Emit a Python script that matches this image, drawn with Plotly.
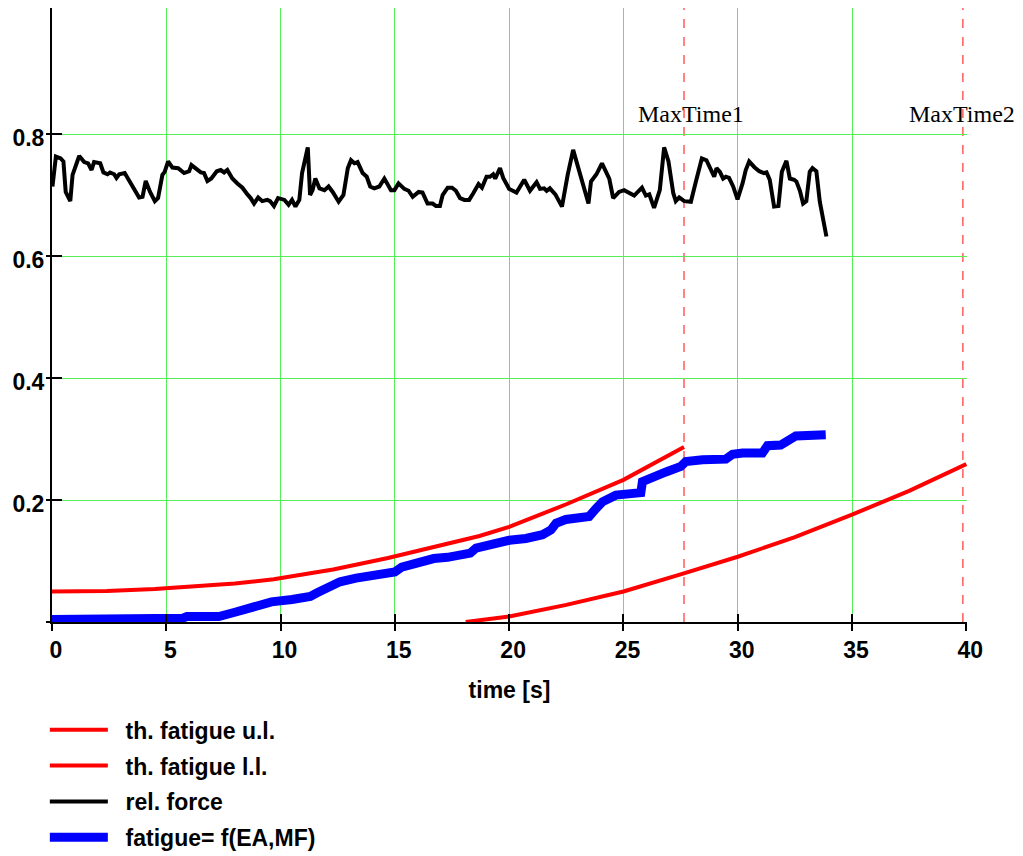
import plotly.graph_objects as go

# ---------------- data ----------------
force_t = [0.02, 0.17, 0.38, 0.5, 0.6, 0.8, 0.9, 1.19, 1.41, 1.58, 1.73, 1.84, 2.11, 2.25, 2.43, 2.54, 2.72,
           2.82, 2.94, 3.18, 3.45, 3.66, 3.81, 3.96, 4.10, 4.29, 4.50, 4.64, 4.83, 4.93, 5.08, 5.27, 5.52,
           5.78, 6.0, 6.10, 6.29, 6.51, 6.65, 6.80, 6.97, 7.21, 7.38, 7.53, 7.67, 7.89, 8.11, 8.33, 8.55,
           8.69, 8.84, 9.02, 9.20, 9.42, 9.54, 9.71, 9.89, 10.08, 10.17, 10.35, 10.50, 10.65, 10.82, 10.94,
           11.19, 11.29, 11.40, 11.52, 11.70, 11.92, 12.10, 12.28, 12.54, 12.75, 12.94, 13.08, 13.23, 13.37,
           13.59, 13.77, 13.92, 14.10, 14.32, 14.54, 14.68, 14.83, 14.98, 15.16, 15.41, 15.60, 15.78, 15.93,
           16.04, 16.21, 16.43, 16.65, 16.80, 16.97, 17.09, 17.31, 17.50, 17.67, 17.85, 18.04, 18.25, 18.43,
           18.66, 18.81, 19.01, 19.16, 19.30, 19.39, 19.60, 19.74, 19.89, 20.0, 20.32, 20.66, 20.91, 21.20,
           21.35, 21.53, 21.64, 21.78, 22.02, 22.31, 22.56, 22.80, 22.99, 23.21, 23.47, 23.58, 23.82, 24.06,
           24.23, 24.38, 24.55, 24.81, 25.03, 25.22, 25.47, 25.81, 25.98, 26.13, 26.34, 26.59, 26.78, 26.97,
           27.18, 27.29, 27.44, 27.66, 27.95, 28.17, 28.43, 28.63, 28.82, 28.97, 29.07, 29.22, 29.36, 29.48,
           29.62, 29.80, 29.99, 30.21, 30.35, 30.50, 30.72, 30.94, 31.15, 31.26, 31.40, 31.59, 31.78, 31.93,
           32.13, 32.28, 32.47, 32.57, 32.72, 32.86, 33.00, 33.15, 33.27, 33.44, 33.59, 33.73, 33.88]
force_v = [0.714, 0.763, 0.760, 0.755, 0.705, 0.690, 0.733, 0.764, 0.754, 0.752, 0.741, 0.754, 0.752, 0.737,
           0.734, 0.737, 0.734, 0.728, 0.734, 0.736, 0.719, 0.704, 0.696, 0.697, 0.723, 0.705, 0.690, 0.695,
           0.733, 0.738, 0.755, 0.745, 0.744, 0.736, 0.739, 0.749, 0.743, 0.737, 0.736, 0.723, 0.727, 0.739,
           0.741, 0.737, 0.741, 0.727, 0.719, 0.712, 0.701, 0.695, 0.686, 0.696, 0.690, 0.692, 0.690, 0.682,
           0.695, 0.693, 0.692, 0.684, 0.692, 0.681, 0.692, 0.736, 0.778, 0.700, 0.708, 0.727, 0.711, 0.708,
           0.714, 0.705, 0.689, 0.700, 0.744, 0.757, 0.752, 0.754, 0.736, 0.730, 0.714, 0.711, 0.714, 0.727,
           0.718, 0.708, 0.708, 0.719, 0.710, 0.707, 0.697, 0.701, 0.705, 0.704, 0.686, 0.686, 0.682, 0.682,
           0.700, 0.712, 0.712, 0.707, 0.695, 0.692, 0.692, 0.703, 0.718, 0.712, 0.730, 0.730, 0.734, 0.727,
           0.744, 0.728, 0.716, 0.710, 0.704, 0.725, 0.707, 0.721, 0.710, 0.711, 0.707, 0.711, 0.701, 0.681,
           0.733, 0.774, 0.749, 0.722, 0.686, 0.722, 0.734, 0.752, 0.738, 0.727, 0.695, 0.705, 0.708, 0.704,
           0.699, 0.712, 0.699, 0.701, 0.679, 0.708, 0.778, 0.755, 0.703, 0.690, 0.696, 0.690, 0.689, 0.722,
           0.760, 0.757, 0.741, 0.730, 0.744, 0.738, 0.727, 0.730, 0.728, 0.714, 0.693, 0.719, 0.741, 0.755,
           0.746, 0.739, 0.736, 0.737, 0.725, 0.681, 0.682, 0.738, 0.756, 0.727, 0.725, 0.722, 0.707, 0.686,
           0.690, 0.738, 0.744, 0.739, 0.689, 0.659, 0.632]

fatigue_t = [0, 4.5, 4.7, 5.7, 5.9, 7.3, 8.0, 8.5, 9.0, 9.6, 10.5, 11.3, 11.6, 12.2, 12.6, 13.3, 14.0, 14.6,
             15.0, 15.3, 15.8, 16.3, 16.7, 17.3, 17.8, 18.3, 18.55, 19.27, 20.0, 20.73, 21.46, 21.83, 22.05,
             22.48, 23.5, 23.8, 24.08, 24.67, 25.76, 25.83, 26.27, 26.86, 27.51, 27.73, 28.46, 29.48, 29.77,
             30.21, 31.08, 31.3, 31.88, 32.17, 32.54, 33.85]
fatigue_v = [0.004, 0.004, 0.006, 0.006, 0.009, 0.009, 0.016, 0.022, 0.028, 0.033, 0.037, 0.042, 0.048,
             0.060, 0.066, 0.072, 0.076, 0.079, 0.082, 0.090, 0.096, 0.099, 0.104, 0.106, 0.109, 0.113,
             0.121, 0.129, 0.134, 0.137, 0.143, 0.151, 0.162, 0.168, 0.173, 0.186, 0.197, 0.208, 0.212,
             0.230, 0.238, 0.246, 0.255, 0.263, 0.266, 0.267, 0.275, 0.277, 0.277, 0.289, 0.290, 0.297,
             0.305, 0.307]

upper_t = [0, 2.4, 4.5, 6.2, 8.0, 9.7, 12.3, 14.7, 17.8, 18.7, 20.0, 22.5, 25.0, 27.65]
upper_v = [0.050, 0.051, 0.054, 0.058, 0.063, 0.070, 0.086, 0.105, 0.132, 0.141, 0.156, 0.193, 0.233, 0.287]

lower_t = [18.1, 20.0, 22.5, 25.0, 27.5, 30.0, 32.5, 35.0, 37.5, 40.0]
lower_v = [0.0, 0.009, 0.028, 0.050, 0.078, 0.107, 0.139, 0.176, 0.215, 0.259]

max_times = [27.65, 39.85]
max_labels = ["MaxTime1", "MaxTime2"]
max_label_shift = [7, -1]

x_ticks = [0, 5, 10, 15, 20, 25, 30, 35, 40]
y_ticks = [0, 0.2, 0.4, 0.6, 0.8]
y_ticktext = ["", "0.2", "0.4", "0.6", "0.8"]

# ---------------- figure ----------------
GREEN = "#55f055"
FONT = "Liberation Sans, Arial, sans-serif"
PAD = "\u00a0\u00a0"

fig = go.Figure()
fig.add_trace(go.Scatter(x=upper_t, y=upper_v, mode="lines", name=PAD + "th. fatigue u.l.",
                         legendgroup="a", line=dict(color="#ff0000", width=4)))
fig.add_trace(go.Scatter(x=lower_t, y=lower_v, mode="lines", name=PAD + "th. fatigue l.l.",
                         legendgroup="b", line=dict(color="#ff0000", width=4)))
fig.add_trace(go.Scatter(x=force_t, y=force_v, mode="lines", name=PAD + "rel. force",
                         legendgroup="c", line=dict(color="#000000", width=4)))
fig.add_trace(go.Scatter(x=fatigue_t, y=fatigue_v, mode="lines", name=PAD + "fatigue= f(EA,MF)",
                         legendgroup="d", line=dict(color="#0000ff", width=9)))
# helper trace so that overlay axes (outer tick halves) are drawn
fig.add_trace(go.Scatter(x=[None], y=[None], xaxis="x2", yaxis="y2", showlegend=False,
                         hoverinfo="skip"))

for t, lab, sh in zip(max_times, max_labels, max_label_shift):
    fig.add_shape(type="line", x0=t, x1=t, y0=0, y1=1, xref="x", yref="paper",
                  line=dict(color="#ff3333", width=1.2, dash="dash"), layer="between")
    fig.add_annotation(x=t, y=0.833, xref="x", yref="y", text=lab, showarrow=False,
                       xshift=sh, font=dict(family="Liberation Serif, Times New Roman, serif",
                                            size=24, color="#000000"))

fig.update_layout(
    width=1015, height=848,
    margin=dict(l=44, r=56, t=0, b=234, autoexpand=False),
    paper_bgcolor="white", plot_bgcolor="white",
    font=dict(family=FONT, color="black"),
    showlegend=True,
    legend=dict(xref="container", yref="container", x=0.0363, y=0.1743, xanchor="left", yanchor="top",
                font=dict(family=FONT, size=23, color="black", weight="bold"),
                bgcolor="rgba(0,0,0,0)", itemwidth=58, tracegroupgap=3),
    xaxis=dict(range=[0, 40.03], tickvals=x_ticks, ticktext=[str(v) for v in x_ticks],
               showgrid=True, gridcolor=GREEN, gridwidth=1, zeroline=False,
               showline=True, linecolor="black", linewidth=2,
               ticks="inside", ticklen=8, tickwidth=2, tickcolor="black",
               tickfont=dict(family=FONT, size=23, color="black", weight="bold"),
               ticklabelshift=4, ticklabelstandoff=6,
               title=dict(text="time [s]", font=dict(family=FONT, size=23, color="black", weight="bold"),
                          standoff=20)),
    yaxis=dict(range=[0, 1.0066], tickvals=y_ticks, ticktext=y_ticktext,
               showgrid=True, gridcolor=GREEN, gridwidth=1, zeroline=False,
               showline=True, linecolor="black", linewidth=2,
               ticks="inside", ticklen=10, tickwidth=2, tickcolor="black",
               tickfont=dict(family=FONT, size=23, color="black", weight="bold"),
               ticklabelshift=4, ticklabelstandoff=1),
    xaxis2=dict(overlaying="x", matches="x", anchor="y2", side="bottom", showgrid=False, zeroline=False,
                showline=False, showticklabels=False, tickvals=x_ticks,
                ticks="outside", ticklen=8, tickwidth=2, tickcolor="black"),
    yaxis2=dict(overlaying="y", matches="y", anchor="x2", side="left", showgrid=False, zeroline=False,
                showline=False, showticklabels=False, tickvals=y_ticks,
                ticks="outside", ticklen=5, tickwidth=2, tickcolor="black"),
)

fig.write_html("out.html")
